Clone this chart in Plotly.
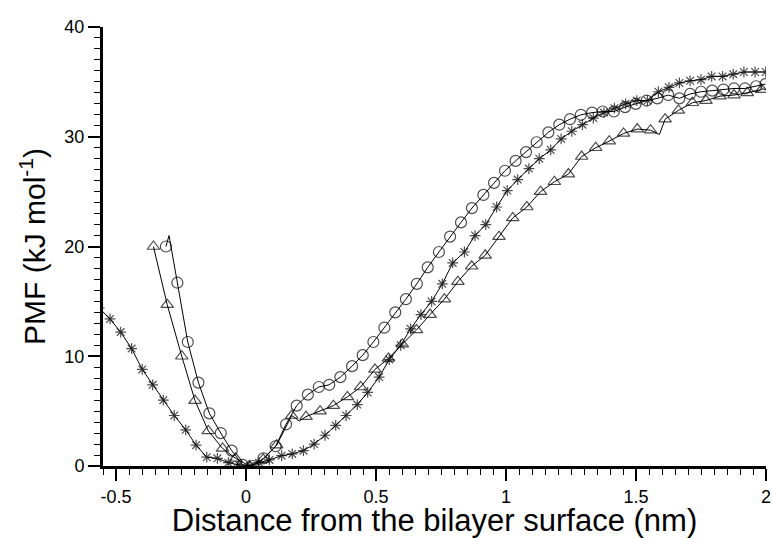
import plotly.graph_objects as go

# Circle series (open circles)
circ_x = [-0.308, -0.296, -0.264, -0.224, -0.183, -0.141, -0.097, -0.055, -0.013, 0.027, 0.067, 0.114,
          0.154, 0.195, 0.238, 0.28, 0.32, 0.363, 0.408, 0.449, 0.49, 0.532, 0.574, 0.615, 0.657,
          0.699, 0.742, 0.785, 0.827, 0.869, 0.913, 0.954, 0.996, 1.037, 1.077, 1.118, 1.163, 1.205,
          1.246, 1.288, 1.331, 1.372, 1.415, 1.458, 1.499, 1.541, 1.582, 1.624, 1.667, 1.708, 1.75,
          1.793, 1.836, 1.877, 1.919, 1.962, 1.998]
circ_y = [20.0, 21.0, 16.7, 11.3, 7.6, 4.8, 3.0, 1.4, 0.1, 0.0, 0.7, 1.8,
          3.8, 5.5, 6.5, 7.2, 7.4, 8.1, 9.1, 10.1, 11.3, 12.6, 14.0, 15.2, 16.6,
          18.1, 19.5, 20.9, 22.2, 23.5, 24.7, 25.8, 26.9, 27.8, 28.6, 29.5, 30.4, 31.1,
          31.6, 32.0, 32.2, 32.3, 32.3, 32.7, 33.0, 33.3, 33.5, 33.8, 33.5, 33.9, 34.1,
          34.2, 34.3, 34.4, 34.4, 34.6, 34.8]
circ_unmarked = [1]

# Triangle series (open triangles)
tri_x = [-0.356, -0.303, -0.247, -0.196, -0.145, -0.09, -0.04, 0.013, 0.066, 0.118, 0.176, 0.205,
         0.231, 0.285, 0.336, 0.39, 0.441, 0.496, 0.548, 0.601, 0.656, 0.708, 0.763, 0.815, 0.868,
         0.92, 0.973, 1.026, 1.08, 1.133, 1.186, 1.24, 1.291, 1.345, 1.397, 1.452, 1.505, 1.556,
         1.59, 1.612, 1.663, 1.717, 1.769, 1.823, 1.877, 1.928, 1.983]
tri_y = [20.0, 14.7, 10.0, 5.95, 3.2, 1.6, 0.7, 0.0, 0.6, 1.9, 4.6, 4.1,
         4.5, 5.0, 5.5, 6.3, 7.2, 8.8, 9.8, 11.1, 12.4, 13.8, 15.2, 16.8, 18.2,
         19.2, 20.9, 22.6, 23.6, 25.0, 25.9, 26.6, 28.2, 29.0, 29.6, 30.3, 30.7, 30.6,
         30.2, 31.6, 32.4, 33.1, 33.3, 33.7, 33.8, 34.0, 34.3]
tri_unmarked = [11, 38]

# Star series (asterisks)
star_x = [-0.565, -0.523, -0.482, -0.44, -0.399, -0.359, -0.318, -0.276, -0.232, -0.192, -0.151,
          -0.11, -0.068, -0.027, 0.015, 0.05, 0.09, 0.137, 0.178, 0.221, 0.262, 0.304, 0.345,
          0.385, 0.428, 0.468, 0.512, 0.551, 0.595, 0.633, 0.673, 0.714, 0.755, 0.795, 0.84,
          0.881, 0.922, 0.964, 1.005, 1.045, 1.088, 1.128, 1.172, 1.212, 1.253, 1.294, 1.336,
          1.377, 1.417, 1.46, 1.503, 1.544, 1.586, 1.627, 1.667, 1.708, 1.75, 1.791, 1.833,
          1.874, 1.915, 1.958, 1.999]
star_y = [14.4, 13.4, 12.2, 10.7, 8.8, 7.4, 6.0, 4.6, 3.3, 1.9, 0.8,
          0.7, 0.3, 0.1, 0.0, 0.3, 0.55, 0.94, 1.1, 1.4, 2.0, 2.8, 3.7,
          4.6, 5.6, 6.7, 8.1, 9.7, 11.0, 12.5, 13.8, 15.0, 16.6, 18.5, 19.5,
          21.0, 22.0, 23.6, 25.1, 26.1, 27.1, 28.0, 28.8, 29.8, 30.5, 31.1, 31.7,
          32.2, 32.6, 33.0, 33.3, 33.3, 34.1, 34.5, 34.9, 35.1, 35.2, 35.5, 35.5,
          35.7, 35.9, 35.9, 35.9]
star_unmarked = []

x_tickvals = [-0.5, 0, 0.5, 1, 1.5, 2]
x_ticktext = ["-0.5", "0", "0.5", "1", "1.5", "2"]
y_tickvals = [0, 10, 20, 30, 40]
y_ticktext = ["0", "10", "20", "30", "40"]

XR = [-0.55, 2.0]
YR = [0, 40]
FONT = "Liberation Sans"


def sizes(n, unmarked, s):
    return [0 if i in unmarked else s for i in range(n)]


fig = go.Figure()
series = [
    (star_x, star_y, star_unmarked, "asterisk-open", 9),
    (tri_x, tri_y, tri_unmarked, "triangle-up-open", 11),
    (circ_x, circ_y, circ_unmarked, "circle-open", 11),
]
for xs, ys, um, sym, sz in series:
    fig.add_trace(go.Scatter(
        x=xs, y=ys, mode="lines+markers",
        line=dict(color="black", width=1),
        marker=dict(symbol=sym, size=sizes(len(xs), um, sz), color="black",
                    line=dict(color="black", width=1.2)),
        showlegend=False, hoverinfo="skip",
    ))

fig.update_layout(
    width=772, height=538,
    margin=dict(l=103, r=6, t=27, b=72, autoexpand=False),
    plot_bgcolor="white",
)
fig.update_xaxes(
    range=XR, showline=True, linewidth=3, linecolor="black",
    gridcolor="white", zerolinecolor="white", automargin=False,
    tickmode="array", tickvals=x_tickvals, ticktext=x_ticktext,
    ticks="outside", ticklen=12, tickwidth=2, tickcolor="black",
    minor=dict(ticks="outside", dtick=0.05, ticklen=6, tickwidth=1, tickcolor="black"),
    tickfont=dict(family=FONT, size=18, color="black"),
    title=dict(text="Distance from the bilayer surface (nm)",
               font=dict(family=FONT, size=31, color="black"), standoff=4),
)
fig.update_yaxes(
    range=YR, showline=True, linewidth=3, linecolor="black",
    gridcolor="white", zerolinecolor="white", automargin=False,
    tickmode="array", tickvals=y_tickvals, ticktext=y_ticktext,
    ticks="outside", ticklen=12, tickwidth=2, tickcolor="black",
    minor=dict(ticks="outside", dtick=1, ticklen=6, tickwidth=1, tickcolor="black"),
    tickfont=dict(family=FONT, size=18, color="black"),
    title=dict(text="PMF (kJ mol<sup>-1</sup>)",
               font=dict(family=FONT, size=30, color="black"), standoff=10),
)

fig.write_html("out.html")
